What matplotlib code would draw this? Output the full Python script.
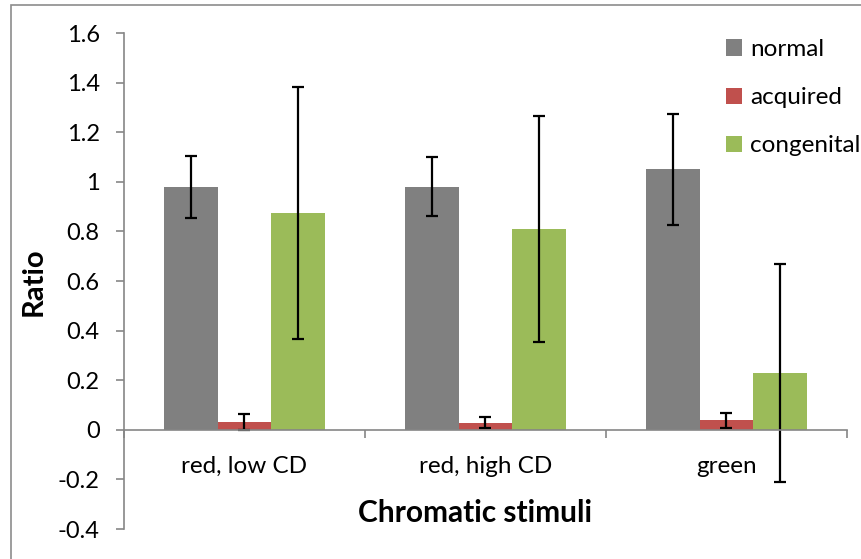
import matplotlib
matplotlib.use("Agg")
import matplotlib.pyplot as plt
import numpy as np
from matplotlib.patches import Rectangle, Patch

plt.rcParams['font.family'] = ['Lato', 'DejaVu Sans']

categories = ["red, low CD", "red, high CD", "green"]
series = ["normal", "acquired", "congenital"]
normal = [0.98, 0.98, 1.05]
normal_err = [0.126, 0.119, 0.225]
acquired = [0.032, 0.029, 0.039]
acquired_err = [0.032, 0.021, 0.03]
congenital = [0.873, 0.81, 0.23]
congenital_err = [0.508, 0.457, 0.44]
colors = ["#808080", "#C0504D", "#9BBB59"]
yticks = [-0.4, -0.2, 0, 0.2, 0.4, 0.6, 0.8, 1, 1.2, 1.4, 1.6]

W, H = 862, 559
fig = plt.figure(figsize=(W / 100, H / 100), dpi=100)
ax = fig.add_axes([124 / W, 30 / H, 723 / W, 496 / H])

# chart-area border (top and left visible)
fig.patches.append(Rectangle((11 / W, -0.1), 1.2, (H - 5) / H + 0.1,
                             transform=fig.transFigure, fill=False,
                             edgecolor="#8c8c8c", linewidth=1.2))

x = np.arange(len(categories))
bw = 1 / 4.5
values = [normal, acquired, congenital]
errs = [normal_err, acquired_err, congenital_err]
for i, (v, e) in enumerate(zip(values, errs)):
    ax.bar(x + (i - 1) * bw, v, width=bw, color=colors[i], label=series[i],
           yerr=e, error_kw=dict(ecolor="black", elinewidth=1.6,
                                 capsize=4.5, capthick=1.6), zorder=2)

ax.set_xlim(-0.5, 2.5)
ax.set_ylim(-0.4, 1.6)
ax.set_yticks(yticks)
ax.set_yticklabels([f"{t:g}" for t in yticks])

axis_gray = "#868686"
for s in ["top", "right"]:
    ax.spines[s].set_visible(False)
ax.spines["left"].set_color(axis_gray)
ax.spines["left"].set_linewidth(1.2)
ax.spines["bottom"].set_position(("data", 0))
ax.spines["bottom"].set_color(axis_gray)
ax.spines["bottom"].set_linewidth(1.2)

ax.tick_params(axis="y", direction="out", length=5.5, width=1.2,
               color=axis_gray, labelsize=17, pad=12)
ax.set_xticks([-0.5, 0.5, 1.5, 2.5])
ax.set_xticklabels([])
ax.tick_params(axis="x", which="major", direction="out", length=6, width=1.2,
               color=axis_gray)
ax.set_xticks(x, minor=True)
ax.set_xticklabels(categories, minor=True)
ax.tick_params(axis="x", which="minor", length=0, labelsize=17.5, pad=19)

fig.text(34 / W, 1 - 282 / H, "Ratio", rotation=90, fontsize=21,
         fontweight="bold", ha="center", va="center")
fig.text(475 / W, 1 - 513 / H, "Chromatic stimuli", fontsize=21.5,
         fontweight="bold", ha="center", va="center")

handles = [Patch(facecolor=c, label=s) for c, s in zip(colors, series)]
ax.legend(handles=handles, loc="upper left", bbox_to_anchor=(726 / W, 1 - 39 / H),
          bbox_transform=fig.transFigure, frameon=False, fontsize=17.5,
          handlelength=0.65, handleheight=0.65, handletextpad=0.35,
          labelspacing=1.12, borderaxespad=0, borderpad=0)

fig.savefig("out.png", dpi=100)
